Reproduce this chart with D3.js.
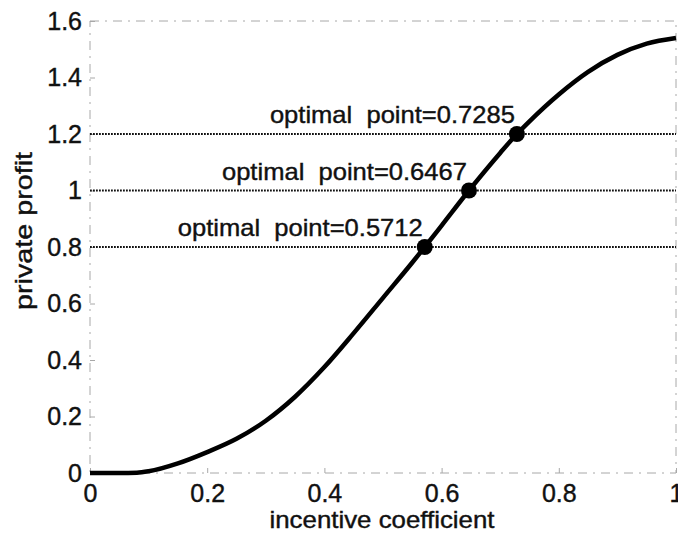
<!DOCTYPE html>
<html>
<head>
<meta charset="utf-8">
<script src="https://cdn.jsdelivr.net/npm/d3@7"></script>
<style>
    body { margin: 0; background: #fff; }
    text { font-family: Arial, "Liberation Sans", Helvetica, sans-serif; fill: #111; white-space: pre; }
</style>
</head>
<body>
<script>
// curve
const coefX = [0, 0.05, 0.08, 0.1, 0.15, 0.2, 0.25, 0.3, 0.35, 0.4, 0.45, 0.5, 0.55, 0.5712, 0.6, 0.6467, 0.7, 0.7285, 0.75, 0.8, 0.85, 0.9, 0.95, 1.0];
const profitY = [0, 0, 0.001, 0.006, 0.034, 0.074, 0.121, 0.185, 0.27, 0.375, 0.495, 0.62, 0.745, 0.8, 0.876, 1.0, 1.133, 1.2, 1.245, 1.34, 1.42, 1.48, 1.52, 1.54];

const optPoints = [0.5712, 0.6467, 0.7285];
const optLevels = [0.8, 1.0, 1.2];
const optLabels = ["optimal  point=0.5712", "optimal  point=0.6467", "optimal  point=0.7285"];

const xTicks = [0, 0.2, 0.4, 0.6, 0.8, 1];
const yTicks = [0, 0.2, 0.4, 0.6, 0.8, 1, 1.2, 1.4, 1.6];

let width = 678, height = 534;
let padLeft = 90, padRight = 676, padTop = 21, padBottom = 473;

var svg = d3.select("body")
            .append("svg")
            .attr("width", width)
            .attr("height", height);

var xScale = d3.scaleLinear()
            .domain([0, 1])
            .range([padLeft, padRight]);

var yScale = d3.scaleLinear()
            .domain([0, 1.6])
            .range([padBottom, padTop]);

// frame, faint dash-dot like the scan
svg.append("rect")
    .attr("x", padLeft)
    .attr("y", padTop)
    .attr("width", padRight - padLeft)
    .attr("height", padBottom - padTop)
    .attr("fill", "none")
    .style("stroke", "#a8a8a8")
    .style("stroke-width", 1)
    .style("stroke-dasharray", "9,6,2,6");

var xAxis = d3.axisBottom(xScale)
            .tickValues(xTicks)
            .tickSize(-5)
            .tickPadding(14)
            .tickFormat(d3.format("~g"));

var yAxis = d3.axisLeft(yScale)
            .tickValues(yTicks)
            .tickSize(-5)
            .tickPadding(8)
            .tickFormat(d3.format("~g"));

let gx = svg.append("g")
    .attr("transform", `translate(0, ${padBottom})`)
    .call(xAxis);
let gy = svg.append("g")
    .attr("transform", `translate(${padLeft}, 0)`)
    .call(yAxis);

for (let g of [gx, gy]) {
    g.select(".domain").remove();
    g.selectAll(".tick line").style("stroke", "#a8a8a8");
    g.selectAll(".tick text")
        .style("font-size", "25px")
        .style("font-family", "Arial, 'Liberation Sans', sans-serif")
        .attr("fill", "#111")
        .style("stroke", "#111")
        .style("stroke-width", 0.4);
}
gx.selectAll(".tick text").attr("dy", "0.6em");

// dotted levels
for (let i = 0; i < optLevels.length; i++) {
    svg.append("line")
        .attr("x1", xScale(0))
        .attr("y1", yScale(optLevels[i]))
        .attr("x2", xScale(1))
        .attr("y2", yScale(optLevels[i]))
        .style("stroke", "#111")
        .style("stroke-width", 2.2)
        .style("stroke-dasharray", "1.8,1.2");
}

var line = d3.line()
    .x((d) => xScale(d[0]))
    .y((d) => yScale(d[1]))
    .curve(d3.curveMonotoneX);

svg.append("path")
    .datum(coefX.map((x, i) => [x, profitY[i]]))
    .attr("d", line)
    .attr("fill", "none")
    .style("stroke", "#000")
    .style("stroke-width", 4.5)
    .style("stroke-linejoin", "round");

for (let i = 0; i < optPoints.length; i++) {
    let px = xScale(optPoints[i]), py = yScale(optLevels[i]);
    svg.append("circle")
        .attr("cx", px)
        .attr("cy", py)
        .attr("r", 8)
        .attr("fill", "#000");
    svg.append("text")
        .attr("x", px - 2)
        .attr("y", py - 11)
        .attr("text-anchor", "end")
        .attr("textLength", 245)
        .attr("lengthAdjust", "spacingAndGlyphs")
        .style("font-size", "24px")
        .style("stroke", "#111")
        .style("stroke-width", 0.4)
        .text(optLabels[i]);
}

svg.append("text")
    .attr("x", 382)
    .attr("y", 528)
    .attr("text-anchor", "middle")
    .attr("textLength", 225)
    .attr("lengthAdjust", "spacingAndGlyphs")
    .style("font-size", "24px")
    .style("stroke", "#111")
    .style("stroke-width", 0.4)
    .text("incentive coefficient");

svg.append("text")
    .attr("transform", "translate(32, 231) rotate(-90)")
    .attr("text-anchor", "middle")
    .attr("textLength", 158)
    .attr("lengthAdjust", "spacingAndGlyphs")
    .style("font-size", "24px")
    .style("stroke", "#111")
    .style("stroke-width", 0.4)
    .text("private profit");
</script>
</body>
</html>
